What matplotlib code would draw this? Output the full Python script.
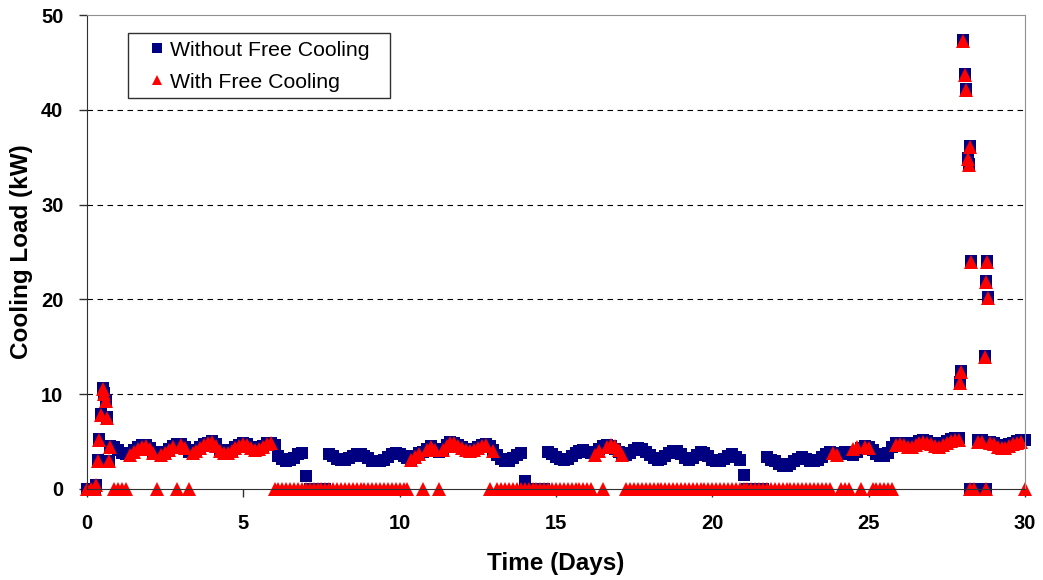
import numpy as np
import matplotlib
matplotlib.use("Agg")
import matplotlib.pyplot as plt
from matplotlib.patches import Rectangle

nan = np.nan

# Cooling load sampled every 3 hours (8 values per day), days 0..29, plus day 30
without_fc = [
    [0.0, 0.0, 0.0, nan, nan, nan, 4.5, 4.4],
    [4.1, 3.8, 3.7, 3.8, 4.1, 4.4, 4.6, 4.6],
    [4.3, 3.9, 3.7, 3.7, 3.9, 4.2, 4.5, 4.7],
    [4.7, 4.4, 3.9, 3.9, 4.1, 4.4, 4.7, 4.9],
    [5.1, 4.7, 4.1, 3.9, 3.9, 4.1, 4.4, 4.6],
    [4.8, 4.7, 4.4, 4.2, 4.3, 4.5, 4.8, 4.9],
    [4.6, 3.5, 3.2, 3.0, 3.1, 3.3, 3.7, 3.8],
    [1.4, 0.0, 0.0, 0.0, 0.0, 0.0, 3.7, 3.5],
    [3.2, 3.1, 3.1, 3.3, 3.5, 3.7, 3.7, 3.5],
    [3.3, 3.0, 2.9, 2.9, 3.1, 3.4, 3.7, 3.8],
    [3.7, 3.5, 3.3, 3.2, 3.5, 3.8, 3.9, 4.2],
    [4.5, 4.2, 3.9, 4.2, 4.6, 5.0, 4.9, 4.6],
    [4.4, 4.2, 4.1, 4.2, 4.4, 4.6, 4.7, 4.5],
    [4.1, 3.6, 3.2, 3.0, 3.0, 3.3, 3.6, 3.8],
    [0.8, 0.0, 0.0, 0.0, 0.0, 0.0, 3.9, 3.7],
    [3.4, 3.2, 3.1, 3.2, 3.5, 3.8, 4.0, 4.1],
    [3.9, 3.8, 3.9, 4.2, 4.5, 4.6, 4.5, 4.2],
    [3.9, 3.7, 3.6, 3.8, 4.1, 4.3, 4.2, 3.9],
    [3.6, 3.3, 3.1, 3.2, 3.5, 3.8, 4.0, 4.0],
    [3.7, 3.3, 3.1, 3.3, 3.6, 3.9, 3.8, 3.5],
    [3.1, 2.9, 2.9, 3.2, 3.5, 3.7, 3.4, 3.1],
    [1.5, 0.0, 0.0, 0.0, 0.0, 0.0, 3.4, 3.1],
    [2.9, 2.6, 2.4, 2.4, 2.6, 2.9, 3.2, 3.4],
    [3.2, 2.9, 2.9, 3.1, 3.4, 3.7, 3.9, 3.8],
    [3.6, 3.7, 3.9, 3.8, 3.6, 3.9, 4.3, 4.5],
    [4.4, 4.1, 3.7, 3.5, 3.5, 3.8, 4.4, 4.8],
    [4.9, 4.8, 4.6, 4.6, 4.8, 5.1, 5.2, 5.1],
    [4.9, 4.7, 4.6, 4.8, 5.1, 5.3, 5.4, 5.4],
    [nan, nan, 0.0, 0.0, 5.2, 5.2, 0.0, 5.0],
    [4.9, 4.6, 4.5, 4.5, 4.7, 4.9, 5.1, 5.2],
    [5.2],
]

with_fc = [
    [0.0, 0.0, 0.0, nan, nan, nan, 4.4, 0.0],
    [0.0, 0.0, 0.0, 3.6, 3.9, 4.2, 4.4, 4.5],
    [4.2, 3.8, 0.0, 3.6, 3.8, 4.1, 4.4, 0.0],
    [4.6, 4.3, 0.0, 3.8, 4.0, 4.3, 4.6, 4.8],
    [5.0, 4.5, 4.0, 3.8, 3.8, 4.0, 4.3, 4.5],
    [4.7, 4.6, 4.3, 4.1, 4.2, 4.4, 4.7, 4.8],
    [0.0, 0.0, 0.0, 0.0, 0.0, 0.0, 0.0, 0.0],
    [0.0, 0.0, 0.0, 0.0, 0.0, 0.0, 0.0, 0.0],
    [0.0, 0.0, 0.0, 0.0, 0.0, 0.0, 0.0, 0.0],
    [0.0, 0.0, 0.0, 0.0, 0.0, 0.0, 0.0, 0.0],
    [0.0, 0.0, 0.0, 3.1, 3.4, 3.7, 0.0, 4.1],
    [4.4, 4.1, 0.0, 4.1, 4.5, 4.9, 4.8, 4.5],
    [4.3, 4.1, 4.0, 4.1, 4.3, 4.5, 4.6, 0.0],
    [4.0, 0.0, 0.0, 0.0, 0.0, 0.0, 0.0, 0.0],
    [0.0, 0.0, 0.0, 0.0, 0.0, 0.0, 0.0, 0.0],
    [0.0, 0.0, 0.0, 0.0, 0.0, 0.0, 0.0, 0.0],
    [0.0, 0.0, 3.6, 4.0, 0.0, 4.4, 4.6, 4.5],
    [4.1, 3.6, 0.0, 0.0, 0.0, 0.0, 0.0, 0.0],
    [0.0, 0.0, 0.0, 0.0, 0.0, 0.0, 0.0, 0.0],
    [0.0, 0.0, 0.0, 0.0, 0.0, 0.0, 0.0, 0.0],
    [0.0, 0.0, 0.0, 0.0, 0.0, 0.0, 0.0, 0.0],
    [0.0, 0.0, 0.0, 0.0, 0.0, 0.0, 0.0, 0.0],
    [0.0, 0.0, 0.0, 0.0, 0.0, 0.0, 0.0, 0.0],
    [0.0, 0.0, 0.0, 0.0, 0.0, 0.0, 0.0, 3.8],
    [3.6, 0.0, 0.0, 0.0, 4.2, 4.4, 0.0, 4.4],
    [4.3, 0.0, 0.0, 0.0, 0.0, 0.0, 0.0, 4.6],
    [4.7, 4.6, 4.4, 4.4, 4.6, 4.9, 5.0, 4.9],
    [4.7, 4.5, 4.4, 4.6, 4.9, 5.1, 5.2, 5.2],
    [nan, nan, 0.0, 0.0, 5.0, 5.0, 0.0, 4.8],
    [4.7, 4.4, 4.3, 4.3, 4.5, 4.7, 4.9, 5.0],
    [0.0],
]

# Start-up peak (day 0) and the peak near day 28, shared by both runs
peak_days = [0.29, 0.36, 0.38, 0.45, 0.52, 0.55, 0.60, 0.64, 0.70,
             27.92, 27.97, 28.02, 28.08, 28.13, 28.18, 28.22, 28.24, 28.29,
             28.72, 28.75, 28.80, 28.82]
peak_without = [0.4, 3.1, 5.3, 7.9, 10.7, 10.1, 9.4, 7.6, 3.0,
                11.3, 12.4, 47.4, 43.8, 42.2, 34.9, 34.3, 36.2, 24.0,
                14.0, 21.9, 24.0, 20.3]
peak_with = [0.4, 3.0, 5.2, 7.8, 10.5, 10.0, 9.3, 7.5, 2.9,
             11.2, 12.3, 47.3, 43.7, 42.1, 34.8, 34.2, 36.1, 23.9,
             13.9, 21.8, 23.9, 20.2]


def flatten(rows):
    vals = [v for row in rows for v in row]
    days = np.arange(len(vals)) / 8.0
    return days, np.array(vals, dtype=float)


t_wo, y_wo = flatten(without_fc)
t_w, y_w = flatten(with_fc)
t_wo = np.concatenate([t_wo, peak_days])
y_wo = np.concatenate([y_wo, peak_without])
t_w = np.concatenate([t_w, peak_days])
y_w = np.concatenate([y_w, peak_with])

plt.rcParams['font.family'] = ['Liberation Sans', 'DejaVu Sans']

fig = plt.figure(figsize=(10.43, 5.8), dpi=100)
ax = fig.add_axes([0.0834, 0.157, 0.8993, 0.817])

ax.plot(t_wo, y_wo, linestyle='none', marker='s', markersize=9,
        color='#000080', markeredgewidth=0, clip_on=False,
        label='Without Free Cooling')
ax.plot(t_w, y_w, linestyle='none', marker='^', markersize=10.5,
        color='#ff0000', markeredgewidth=0, clip_on=False,
        label='With Free Cooling')

ax.set_xlim(0, 30)
ax.set_ylim(0, 50)
ax.set_xticks(range(0, 31, 5))
ax.set_yticks(range(0, 51, 10))

# dashed horizontal gridlines
for yv in range(10, 50, 10):
    ax.axhline(yv, color='black', linestyle=(0, (5, 4)), linewidth=0.8, zorder=0)

for side in ['top', 'right']:
    ax.spines[side].set_color('#909090')
for side in ['left', 'bottom']:
    ax.spines[side].set_color('#303030')
ax.tick_params(direction='out', length=6, width=1, color='#303030',
               labelsize=14.5)
ax.tick_params(axis='x', pad=12)
ax.tick_params(axis='y', pad=11)
for lbl in ax.get_xticklabels() + ax.get_yticklabels():
    lbl.set_fontweight('bold')

ax.set_xlabel('Time (Days)', fontsize=17.5, fontweight='bold', labelpad=14)
ax.set_ylabel('Cooling Load (kW)', fontsize=17.5, fontweight='bold', labelpad=6)

# legend box drawn by hand so the padding matches the original
box = Rectangle((0.0437, 0.825), 0.2793, 0.137, transform=ax.transAxes,
                facecolor='white', edgecolor='#303030', linewidth=1.0,
                clip_on=False, zorder=4)
ax.add_patch(box)
leg = ax.legend(loc='upper left', bbox_to_anchor=(0.0633, 0.946),
                fontsize=15.3, frameon=False,
                handlelength=1.0, handletextpad=0.11, borderpad=0,
                labelspacing=0.62, borderaxespad=0)
leg.set_zorder(5)
for h in leg.legend_handles:
    h.set_markersize(7)

fig.savefig('out.png', dpi=100)
